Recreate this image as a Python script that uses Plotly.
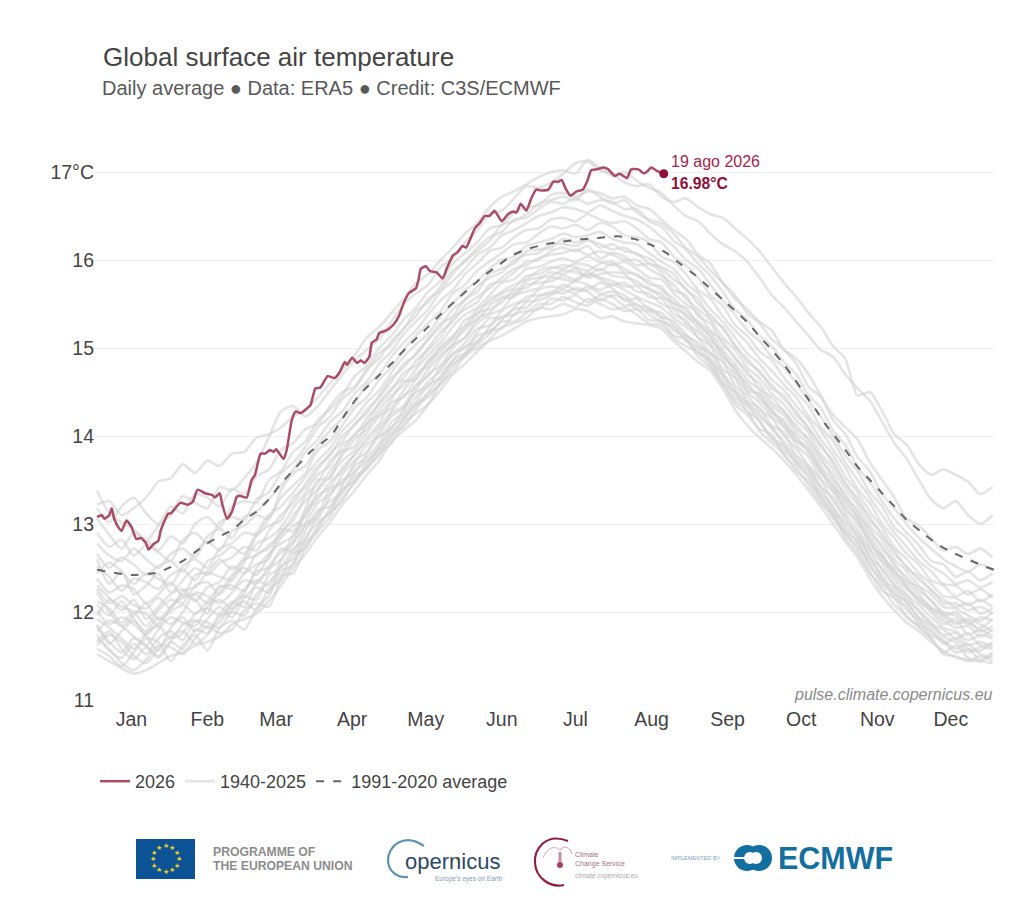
'''
Global surface air temperature, daily average (ERA5 / C3S-ECMWF)
'''

import math
import plotly.graph_objects as go

# Values
month_days = [14, 45, 73, 104, 134, 165, 195, 226, 257, 287, 318, 348]
month_labels = ['Jan', 'Feb', 'Mar', 'Apr', 'May', 'Jun', 'Jul', 'Aug', 'Sep', 'Oct', 'Nov', 'Dec']
temp_ticks = [11, 12, 13, 14, 15, 16, 17]
temp_labels = ['11', '12', '13', '14', '15', '16', '17°C']

days_2026 = [0, 2, 3, 5, 6, 7, 9, 10, 12, 14, 16, 18, 20, 21, 23, 25, 26, 29, 30, 34, 37, 39, 41, 44, 47, 48,
             50, 51, 53, 55, 57, 58.3, 61, 63, 64.4, 66.7, 68.5, 70.5, 72, 73, 76, 77.3, 79.4, 81, 83, 85, 87,
             89, 91, 94, 97, 99, 101, 102, 104, 106, 107.5, 109, 111, 112, 114, 115, 118, 121, 123, 125, 127,
             130, 131, 132, 134, 135.7, 138.4, 140.9, 142.5, 145, 147, 149, 150.4, 152, 154, 156, 158, 160,
             162, 165, 167.5, 169.7, 171, 172.7, 175, 177, 179, 181, 184, 186, 188, 189.4, 191, 193, 195.5,
             198, 200, 201.4, 203.7, 206.4, 208.4, 211, 213, 216, 217.7, 220.7, 222.8, 224, 226, 228, 231]
temp_2026 = [13.08, 13.10, 13.06, 13.10, 13.18, 13.06, 12.95, 12.92, 13.04, 12.97, 12.83, 12.84, 12.78, 12.71,
             12.77, 12.81, 12.93, 13.12, 13.12, 13.24, 13.22, 13.25, 13.39, 13.35, 13.33, 13.30, 13.35, 13.23,
             13.06, 13.14, 13.31, 13.32, 13.30, 13.50, 13.56, 13.80, 13.80, 13.84, 13.82, 13.85, 13.74, 13.84,
             14.18, 14.28, 14.26, 14.30, 14.35, 14.54, 14.55, 14.68, 14.66, 14.73, 14.84, 14.81, 14.89, 14.83,
             14.86, 14.83, 14.90, 15.06, 15.10, 15.17, 15.20, 15.27, 15.36, 15.51, 15.62, 15.68, 15.77, 15.90,
             15.93, 15.875, 15.86, 15.79, 15.90, 16.05, 16.09, 16.16, 16.14, 16.23, 16.36, 16.42, 16.50, 16.50,
             16.56, 16.44, 16.52, 16.55, 16.54, 16.64, 16.56, 16.70, 16.80, 16.79, 16.80, 16.89, 16.89, 16.91,
             16.81, 16.73, 16.78, 16.80, 16.91, 17.02, 17.03, 17.05, 17.03, 16.955, 16.98, 16.93, 17.03, 17.03,
             16.985, 17.00, 17.05, 17.015, 16.98]

days_avg = [0, 14, 25, 30, 35, 40, 45, 50, 55, 60, 65, 70, 75, 80, 87, 95.6, 101, 107, 115, 121, 126, 135, 141,
            146.6, 152.7, 158, 163.6, 169, 176, 183, 190, 197, 204, 212.5, 219, 226, 232, 238, 243.7, 249, 255,
            261, 265.5, 270, 275, 280, 284.5, 288.6, 292.7, 296.7, 301.5, 305.6, 310, 315, 320, 325, 330, 336,
            342, 348, 354, 362, 365.5]
temp_avg = [12.48, 12.42, 12.45, 12.51, 12.58, 12.68, 12.78, 12.86, 12.93, 13.05, 13.14, 13.28, 13.46, 13.61,
            13.82, 14.01, 14.24, 14.47, 14.69, 14.85, 15.0, 15.24, 15.41, 15.55, 15.70, 15.83, 15.94, 16.05,
            16.13, 16.18, 16.21, 16.235, 16.25, 16.27, 16.24, 16.17, 16.08, 15.95, 15.83, 15.70, 15.55, 15.40,
            15.28, 15.13, 14.98, 14.81, 14.64, 14.47, 14.31, 14.14, 13.97, 13.82, 13.65, 13.50, 13.35, 13.20,
            13.045, 12.91, 12.78, 12.685, 12.61, 12.515, 12.48]

# 1940-2025: a selection of the grey lines, read every 5 days
days_gray = [0, 5, 10, 15, 20, 25, 30, 35, 40, 45, 50, 55, 60, 65, 70, 75, 80, 85, 90,
             95, 100, 105, 110, 115, 120, 125, 130, 135, 140, 145, 150, 155, 160, 165, 170, 175, 180, 185,
             190, 195, 200, 205, 210, 215, 220, 225, 230, 235, 240, 245, 250, 255, 260, 265, 270, 275, 280,
             285, 290, 295, 300, 305, 310, 315, 320, 325, 330, 335, 340, 345, 350, 355, 360, 365]
gray_01 = [11.52,11.44,11.36,11.30,11.34,11.42,11.50,11.54,11.62,11.66,11.72,11.86,11.92,11.98,12.12,12.30,12.50,12.66,12.86,
           13.02,13.22,13.38,13.56,13.72,13.94,14.06,14.18,14.36,14.52,14.70,14.82,14.96,15.08,15.14,15.22,15.30,15.34,15.36,
           15.38,15.44,15.42,15.34,15.36,15.30,15.28,15.26,15.22,15.08,14.96,14.84,14.74,14.54,14.30,14.12,13.98,13.86,13.72,
           13.56,13.38,13.20,13.00,12.80,12.62,12.38,12.18,12.02,11.88,11.78,11.66,11.56,11.48,11.46,11.44,11.42]
gray_02 = [11.70,11.58,11.42,11.34,11.46,11.62,11.60,11.52,11.70,11.84,11.76,11.80,12.02,12.10,12.06,12.38,12.66,12.72,12.98,
           13.14,13.26,13.50,13.62,13.80,13.92,14.14,14.26,14.36,14.60,14.72,14.92,15.00,15.10,15.24,15.28,15.34,15.46,15.44,
           15.50,15.46,15.56,15.50,15.44,15.46,15.38,15.28,15.26,15.12,15.02,14.96,14.80,14.58,14.40,14.28,14.06,13.92,13.80,
           13.60,13.48,13.28,13.06,12.90,12.70,12.46,12.24,12.16,11.94,11.84,11.70,11.54,11.62,11.48,11.44,11.52]
gray_03 = [11.62,11.74,11.66,11.50,11.42,11.58,11.72,11.78,11.64,11.74,11.94,12.00,11.96,12.20,12.34,12.46,12.54,12.84,13.02,
           13.12,13.40,13.48,13.70,13.84,13.98,14.20,14.36,14.44,14.62,14.82,14.90,15.08,15.20,15.22,15.38,15.42,15.44,15.56,
           15.54,15.60,15.52,15.60,15.58,15.48,15.50,15.38,15.30,15.24,15.08,15.00,14.84,14.68,14.44,14.34,14.16,13.98,13.88,
           13.68,13.56,13.32,13.14,12.92,12.80,12.52,12.36,12.16,12.06,11.86,11.78,11.68,11.58,11.64,11.52,11.48]
gray_04 = [11.84,11.66,11.54,11.70,11.62,11.48,11.66,11.86,11.90,11.82,11.88,12.10,12.18,12.14,12.42,12.50,12.72,12.82,13.12,
           13.26,13.36,13.60,13.72,13.86,14.10,14.22,14.38,14.58,14.66,14.86,15.02,15.06,15.24,15.36,15.38,15.52,15.54,15.60,
           15.66,15.62,15.70,15.62,15.64,15.60,15.48,15.46,15.36,15.30,15.16,15.02,14.94,14.72,14.54,14.38,14.26,14.08,13.94,
           13.76,13.62,13.42,13.18,13.00,12.84,12.64,12.38,12.26,12.10,11.94,11.84,11.72,11.66,11.54,11.60,11.58]
gray_05 = [11.92,11.82,11.70,11.58,11.76,11.84,11.70,11.76,11.98,12.04,11.96,12.08,12.26,12.36,12.30,12.58,12.78,12.98,13.06,
           13.32,13.50,13.58,13.80,14.00,14.08,14.30,14.50,14.56,14.78,14.92,15.06,15.22,15.26,15.42,15.50,15.54,15.66,15.70,
           15.68,15.76,15.72,15.66,15.72,15.66,15.58,15.52,15.46,15.34,15.24,15.12,14.94,14.84,14.58,14.46,14.30,14.20,14.00,
           13.86,13.66,13.50,13.26,13.08,12.86,12.70,12.48,12.30,12.18,12.00,11.86,11.80,11.70,11.76,11.62,11.64]
gray_06 = [11.78,11.90,11.84,11.72,11.62,11.80,11.94,11.88,11.84,12.06,12.14,12.04,12.22,12.46,12.50,12.60,12.88,13.02,13.24,
           13.34,13.56,13.72,13.82,14.06,14.22,14.32,14.52,14.70,14.80,15.00,15.12,15.28,15.38,15.44,15.60,15.64,15.68,15.80,
           15.78,15.76,15.84,15.78,15.72,15.74,15.64,15.62,15.50,15.44,15.28,15.18,15.04,14.86,14.68,14.50,14.38,14.22,14.10,
           13.90,13.76,13.52,13.36,13.12,12.94,12.72,12.56,12.36,12.20,12.08,11.94,11.82,11.78,11.68,11.74,11.70]
gray_07 = [12.02,11.86,11.94,11.86,11.74,11.88,12.00,12.08,11.98,12.12,12.28,12.30,12.24,12.50,12.66,12.78,12.86,13.12,13.28,
           13.48,13.60,13.80,13.94,14.10,14.28,14.46,14.56,14.76,14.92,15.04,15.24,15.32,15.48,15.58,15.62,15.76,15.80,15.82,
           15.88,15.86,15.82,15.90,15.82,15.80,15.76,15.66,15.62,15.46,15.38,15.22,15.08,14.96,14.72,14.60,14.42,14.30,14.14,
           14.00,13.80,13.60,13.38,13.20,13.00,12.82,12.58,12.44,12.28,12.12,12.02,11.90,11.82,11.84,11.72,11.80]
gray_08 = [12.12,12.04,11.88,12.00,11.98,11.84,12.06,12.16,12.20,12.10,12.22,12.42,12.50,12.42,12.64,12.84,12.98,13.08,13.38,
           13.54,13.72,13.84,14.04,14.22,14.32,14.52,14.70,14.80,15.02,15.14,15.26,15.44,15.52,15.64,15.72,15.78,15.88,15.92,
           15.90,15.96,15.94,15.88,15.96,15.90,15.82,15.76,15.66,15.56,15.42,15.30,15.18,14.98,14.82,14.64,14.52,14.34,14.24,
           14.04,13.90,13.66,13.48,13.24,13.08,12.86,12.66,12.46,12.34,12.20,12.04,11.98,11.88,11.92,11.86,11.78]
gray_09 = [11.96,12.14,12.06,12.00,11.84,12.02,12.14,12.10,12.30,12.34,12.20,12.38,12.60,12.64,12.76,12.88,13.10,13.26,13.40,
           13.60,13.78,13.96,14.08,14.30,14.46,14.58,14.76,14.92,15.06,15.24,15.38,15.46,15.60,15.74,15.78,15.90,15.92,15.98,
           16.02,15.98,16.04,15.98,15.94,15.98,15.90,15.80,15.78,15.62,15.50,15.40,15.20,15.08,14.88,14.74,14.54,14.44,14.28,
           14.12,13.94,13.76,13.52,13.34,13.12,12.94,12.72,12.56,12.36,12.28,12.12,12.00,11.96,11.86,11.94,11.90]
gray_10 = [12.26,12.10,12.18,12.08,12.04,12.16,12.04,12.24,12.28,12.44,12.40,12.36,12.56,12.78,12.84,12.96,13.18,13.36,13.56,
           13.66,13.90,14.00,14.20,14.36,14.52,14.72,14.80,15.00,15.18,15.30,15.48,15.58,15.68,15.80,15.90,15.94,16.02,16.06,
           16.08,16.12,16.06,16.10,16.06,16.00,16.00,15.90,15.82,15.72,15.56,15.44,15.32,15.12,14.98,14.78,14.66,14.48,14.36,
           14.18,14.04,13.80,13.62,13.40,13.22,12.98,12.82,12.60,12.46,12.30,12.20,12.06,12.04,11.96,11.90,12.00]
gray_11 = [12.38,12.22,12.30,12.26,12.10,12.20,12.34,12.18,12.42,12.46,12.60,12.48,12.62,12.86,12.98,13.04,13.30,13.42,13.62,
           13.80,13.94,14.14,14.26,14.46,14.66,14.78,14.94,15.10,15.24,15.44,15.54,15.70,15.80,15.86,16.00,16.06,16.08,16.18,
           16.18,16.16,16.22,16.18,16.12,16.14,16.06,16.02,15.90,15.78,15.68,15.50,15.38,15.22,15.02,14.88,14.72,14.58,14.42,
           14.28,14.08,13.90,13.68,13.48,13.26,13.08,12.86,12.70,12.50,12.40,12.24,12.14,12.06,12.10,11.98,12.04]
gray_12 = [12.52,12.40,12.24,12.38,12.34,12.26,12.42,12.48,12.36,12.58,12.64,12.74,12.66,12.90,13.10,13.20,13.36,13.54,13.72,
           13.86,14.06,14.20,14.38,14.52,14.72,14.90,15.04,15.16,15.36,15.50,15.66,15.76,15.90,16.00,16.04,16.16,16.20,16.24,
           16.30,16.26,16.28,16.32,16.24,16.20,16.18,16.08,15.98,15.90,15.74,15.62,15.44,15.30,15.12,14.94,14.82,14.64,14.52,
           14.34,14.18,13.96,13.78,13.54,13.36,13.14,12.96,12.74,12.60,12.44,12.32,12.18,12.16,12.08,12.14,12.06]
gray_13 = [12.44,12.56,12.46,12.32,12.44,12.38,12.30,12.52,12.60,12.50,12.72,12.78,12.90,12.88,13.06,13.30,13.44,13.58,13.84,
           13.94,14.12,14.32,14.44,14.64,14.78,14.98,15.14,15.28,15.42,15.62,15.72,15.88,15.98,16.08,16.18,16.20,16.30,16.38,
           16.36,16.40,16.34,16.42,16.38,16.28,16.26,16.20,16.04,15.98,15.84,15.66,15.56,15.36,15.20,15.06,14.88,14.74,14.58,
           14.44,14.22,14.06,13.84,13.64,13.40,13.24,13.00,12.84,12.66,12.54,12.36,12.30,12.18,12.24,12.12,12.20]
gray_14 = [12.66,12.50,12.62,12.54,12.42,12.52,12.58,12.46,12.68,12.80,12.70,12.92,12.98,13.10,13.06,13.38,13.58,13.66,13.90,
           14.06,14.20,14.38,14.58,14.70,14.90,15.06,15.20,15.38,15.54,15.66,15.84,15.96,16.10,16.14,16.26,16.34,16.36,16.46,
           16.48,16.44,16.52,16.46,16.42,16.44,16.36,16.24,16.20,16.04,15.94,15.80,15.60,15.48,15.26,15.14,14.96,14.86,14.66,
           14.50,14.34,14.10,13.94,13.70,13.50,13.30,13.10,12.90,12.74,12.58,12.46,12.32,12.30,12.20,12.26,12.16]
gray_15 = [12.78,12.64,12.58,12.72,12.60,12.50,12.66,12.72,12.62,12.86,12.94,12.84,13.08,13.14,13.28,13.44,13.62,13.82,13.96,
           14.16,14.28,14.48,14.62,14.82,14.96,15.16,15.30,15.44,15.64,15.76,15.90,16.06,16.14,16.28,16.34,16.42,16.50,16.54,
           16.60,16.58,16.54,16.62,16.56,16.50,16.46,16.38,16.26,16.16,16.00,15.90,15.72,15.54,15.38,15.20,15.08,14.90,14.78,
           14.60,14.40,14.22,14.00,13.78,13.60,13.36,13.20,12.96,12.84,12.66,12.52,12.44,12.32,12.36,12.28,12.34]
gray_16 = [12.90,12.74,12.82,12.64,12.76,12.68,12.58,12.82,12.90,12.78,13.02,13.08,13.04,13.28,13.36,13.58,13.70,13.88,14.10,
           14.22,14.42,14.54,14.76,14.88,15.08,15.22,15.42,15.52,15.70,15.88,15.98,16.14,16.26,16.32,16.46,16.48,16.58,16.66,
           16.64,16.70,16.64,16.68,16.66,16.58,16.58,16.44,16.38,16.22,16.12,15.96,15.82,15.64,15.44,15.32,15.14,15.02,14.84,
           14.70,14.46,14.32,14.06,13.90,13.64,13.48,13.26,13.06,12.90,12.76,12.58,12.54,12.40,12.46,12.36,12.44]
gray_17 = [13.06,12.88,12.72,12.90,12.82,12.70,12.86,12.78,13.00,13.08,12.96,13.20,13.26,13.24,13.50,13.60,13.82,13.94,14.18,
           14.30,14.46,14.68,14.80,15.00,15.14,15.32,15.46,15.64,15.76,15.96,16.08,16.20,16.36,16.40,16.54,16.60,16.62,16.74,
           16.76,16.72,16.78,16.76,16.70,16.72,16.62,16.58,16.46,16.34,16.24,16.06,15.96,15.74,15.60,15.40,15.28,15.10,14.98,
           14.82,14.56,14.44,14.18,14.02,13.76,13.60,13.34,13.18,13.00,12.84,12.72,12.60,12.52,12.46,12.54,12.48]
gray_18 = [13.38,13.12,13.02,12.94,12.80,12.98,13.10,13.32,13.24,13.18,13.42,13.38,13.52,13.70,13.98,14.28,14.34,14.22,14.34,
           14.52,14.70,14.86,14.98,15.10,15.30,15.50,15.62,15.72,15.92,16.02,16.20,16.34,16.52,16.56,16.70,16.84,16.82,16.88,
           16.98,17.10,17.12,17.02,16.98,16.88,16.84,16.86,16.72,16.66,16.70,16.60,16.52,16.48,16.36,16.24,16.10,15.92,15.74,
           15.58,15.40,15.24,15.02,14.88,14.46,14.50,14.28,14.02,13.90,13.68,13.56,13.62,13.56,13.48,13.34,13.42]
gray_19 = [13.22,13.26,13.10,13.18,13.30,13.48,13.52,13.68,13.58,13.72,13.66,13.80,13.82,13.98,14.02,14.10,14.22,14.30,14.44,
           14.60,14.76,14.92,15.12,15.24,15.40,15.56,15.74,15.84,16.00,16.14,16.30,16.42,16.60,16.72,16.78,16.86,16.94,17.00,
           17.02,16.98,17.14,17.04,16.96,17.00,16.90,16.82,16.76,16.62,16.50,16.44,16.30,16.18,16.10,15.98,15.80,15.60,15.46,
           15.30,15.14,14.98,14.90,14.70,14.54,14.40,14.16,13.92,13.74,13.50,13.28,13.18,13.26,13.10,13.00,13.10]
gray_20 = [13.18,13.02,13.20,13.30,13.12,13.00,13.20,13.12,13.34,13.30,13.20,13.40,13.34,13.54,13.62,13.84,13.92,14.08,14.14,
           14.34,14.50,14.56,14.74,14.94,15.04,15.22,15.36,15.56,15.66,15.84,16.00,16.10,16.22,16.40,16.44,16.52,16.64,16.68,
           16.72,16.68,16.80,16.72,16.64,16.68,16.54,16.46,16.42,16.30,16.14,16.04,15.88,15.74,15.56,15.44,15.30,15.20,14.98,
           14.88,14.70,14.46,14.24,14.10,13.96,13.70,13.50,13.30,13.06,12.98,12.84,12.70,12.74,12.66,12.72,12.62]
gray_21 = [11.66,11.78,11.58,11.46,11.60,11.50,11.66,11.58,11.80,11.76,11.98,12.12,12.06,12.34,12.46,12.72,12.68,13.00,13.10,
           13.40,13.46,13.70,13.90,14.00,14.26,14.34,14.58,14.68,14.88,15.04,15.12,15.34,15.40,15.56,15.58,15.72,15.74,15.76,
           15.82,15.78,15.86,15.80,15.76,15.70,15.70,15.58,15.56,15.38,15.32,15.12,15.02,14.76,14.66,14.40,14.32,14.12,14.04,
           13.78,13.66,13.42,13.30,13.04,12.90,12.62,12.50,12.30,12.14,12.02,11.88,11.74,11.76,11.62,11.66,11.60]
gray_22 = [12.22,12.00,11.84,11.96,12.10,11.92,12.04,12.20,12.14,11.98,12.30,12.26,12.44,12.54,12.60,12.94,12.92,13.18,13.50,
           13.52,13.82,13.88,14.14,14.24,14.42,14.62,14.64,14.86,15.00,15.12,15.32,15.38,15.56,15.62,15.68,15.82,15.84,15.90,
           15.94,15.92,15.88,15.96,15.98,15.86,15.84,15.72,15.70,15.50,15.46,15.26,15.14,14.90,14.78,14.56,14.46,14.26,14.18,
           13.96,13.86,13.58,13.44,13.16,13.04,12.76,12.64,12.40,12.26,12.14,12.00,11.86,11.92,11.74,11.80,11.72]
gray_23 = [11.86,11.64,11.78,11.90,11.72,11.56,11.82,11.94,11.78,11.92,12.06,11.94,12.16,12.28,12.22,12.52,12.60,12.92,13.16,
           13.20,13.44,13.66,13.76,13.92,14.16,14.26,14.44,14.62,14.74,14.94,15.00,15.18,15.34,15.34,15.46,15.58,15.60,15.62,
           15.72,15.66,15.66,15.74,15.68,15.54,15.56,15.44,15.40,15.26,15.14,15.06,14.88,14.70,14.50,14.36,14.22,14.10,13.90,
           13.72,13.60,13.36,13.20,12.96,12.78,12.58,12.42,12.20,12.12,11.92,11.80,11.64,11.70,11.58,11.56,11.66]
gray_24 = [12.30,12.16,12.02,12.14,11.92,12.06,12.20,12.26,12.12,12.28,12.34,12.52,12.44,12.66,12.72,12.90,13.04,13.32,13.46,
           13.72,13.84,14.02,14.14,14.38,14.54,14.66,14.86,14.98,15.12,15.34,15.44,15.52,15.72,15.76,15.86,15.98,16.00,16.10,
           16.14,16.10,16.16,16.02,16.08,16.04,15.94,15.96,15.86,15.66,15.60,15.36,15.28,15.04,14.90,14.70,14.60,14.38,14.28,
           14.08,13.98,13.72,13.56,13.30,13.16,12.90,12.76,12.52,12.40,12.24,12.14,11.96,12.00,11.88,11.82,11.92]
gray_25 = [11.58,11.50,11.38,11.54,11.70,11.66,11.44,11.62,11.74,11.56,11.82,11.90,11.80,12.04,12.18,12.42,12.44,12.74,12.92,
           13.08,13.30,13.46,13.66,13.78,14.02,14.10,14.30,14.48,14.58,14.78,14.94,15.04,15.16,15.30,15.30,15.40,15.50,15.50,
           15.58,15.52,15.48,15.56,15.50,15.42,15.44,15.32,15.30,15.14,15.10,14.90,14.78,14.62,14.36,14.24,14.08,14.02,13.78,
           13.64,13.44,13.24,13.10,12.84,12.66,12.44,12.28,12.08,11.96,11.82,11.70,11.52,11.50,11.44,11.50,11.44]
gray_26 = [12.60,12.32,12.46,12.20,12.30,12.44,12.22,12.36,12.50,12.42,12.56,12.62,12.74,12.70,12.92,13.10,13.24,13.46,13.66,
           13.78,14.00,14.12,14.30,14.44,14.62,14.82,14.92,15.10,15.28,15.36,15.56,15.64,15.84,15.90,15.96,16.10,16.12,16.14,
           16.24,16.20,16.24,16.14,16.18,16.10,16.08,15.96,15.92,15.84,15.66,15.56,15.34,15.24,15.04,14.84,14.74,14.54,14.46,
           14.24,14.10,13.88,13.72,13.44,13.30,13.04,12.90,12.66,12.52,12.36,12.26,12.10,12.10,12.02,12.06,11.98]
gray_27 = [12.08,11.96,12.12,11.92,11.78,11.94,11.86,12.00,12.22,12.18,12.10,12.22,12.36,12.32,12.52,12.68,12.80,13.14,13.32,
           13.42,13.64,13.78,13.98,14.14,14.38,14.44,14.66,14.84,14.96,15.10,15.20,15.40,15.44,15.52,15.66,15.68,15.78,15.86,
           15.84,15.90,15.80,15.84,15.86,15.84,15.72,15.68,15.58,15.52,15.36,15.28,15.12,14.92,14.76,14.52,14.48,14.28,14.12,
           13.94,13.84,13.62,13.42,13.28,13.06,12.80,12.62,12.48,12.30,12.16,12.06,11.94,11.86,11.90,11.78,11.84]
gray_28 = [11.74,11.56,11.48,11.64,11.52,11.70,11.78,11.68,11.90,11.88,11.82,12.02,12.12,12.02,12.26,12.36,12.56,12.78,12.94,
           13.18,13.36,13.54,13.64,13.88,14.04,14.18,14.34,14.50,14.68,14.86,14.94,15.14,15.18,15.32,15.44,15.46,15.58,15.64,
           15.62,15.68,15.64,15.54,15.60,15.56,15.44,15.42,15.34,15.20,15.12,14.94,14.86,14.60,14.50,14.28,14.18,13.96,13.84,
           13.70,13.52,13.30,13.12,12.88,12.74,12.54,12.32,12.22,12.02,11.90,11.74,11.66,11.54,11.58,11.46,11.54]

gray_lines = [gray_01, gray_02, gray_03, gray_04, gray_05, gray_06, gray_07, gray_08, gray_09, gray_10, gray_11,
              gray_12, gray_13, gray_14, gray_15, gray_16, gray_17, gray_18, gray_19, gray_20, gray_21, gray_22,
              gray_23, gray_24, gray_25, gray_26, gray_27, gray_28]

# Plot area in page pixels, the logos below are placed in these
left, right, top, bottom = 92, 995, 150, 700
WIDTH, HEIGHT = 1030, 906


def X(px):
    return (px - left) / (right - left)


def Y(py):
    return (bottom - py) / (bottom - top)


def label(px, py, text, size, color, anchor='left'):
    # annotations sit 2px inside their anchor
    shift = {'left': -2, 'right': 2, 'center': 0}[anchor]
    return dict(x=X(px + shift), y=Y(py), xref='paper', yref='paper', text=text, showarrow=False, xanchor=anchor,
                yanchor='middle', font=dict(size=size, color=color))


fig = go.Figure()

for i, gray in enumerate(gray_lines):
    fig.add_trace(go.Scatter(
        x=days_gray, y=gray, mode='lines', name='1940-2025', legendrank=2, showlegend=i == 0,
        line=dict(color='rgba(210,210,210,0.6)', width=2.6, shape='spline', smoothing=0.7),
        hoverinfo='skip'
    ))
fig.add_trace(go.Scatter(
    x=days_avg, y=temp_avg, mode='lines', name='1991-2020 average', legendrank=3,
    line=dict(color='#666666', width=2, dash='8px,9px', shape='spline', smoothing=0.5)
))
fig.add_trace(go.Scatter(
    x=days_2026, y=temp_2026, mode='lines', name='2026', legendrank=1,
    line=dict(color='#aa4c64', width=2.5, shape='spline', smoothing=0.5)
))
fig.add_trace(go.Scatter(
    x=days_2026[-1:], y=temp_2026[-1:], mode='markers', showlegend=False,
    marker=dict(color='#8f0f37', size=9)
))

annotations = [
    label(103, 57, 'Global surface air temperature', 26, '#444444'),
    label(102, 88, 'Daily average ● Data: ERA5 ● Credit: C3S/ECMWF', 20, '#595959'),
    label(993, 694, '<i>pulse.climate.copernicus.eu</i>', 16, '#8a8a8a', anchor='right'),
    dict(x=days_2026[-1], y=temp_2026[-1], text='19 ago 2026', showarrow=False, xanchor='left', yanchor='middle',
         xshift=5, yshift=12, font=dict(size=16, color='#a3254b')),
    dict(x=days_2026[-1], y=temp_2026[-1], text='<b>16.98°C</b>', showarrow=False, xanchor='left', yanchor='middle',
         xshift=5, yshift=-10, font=dict(size=15.7, color='#8f0f37')),
    # logos
    label(213, 852, '<b>PROGRAMME OF</b>', 12.2, '#8c8c8c'),
    label(213, 866, '<b>THE EUROPEAN UNION</b>', 12.2, '#8c8c8c'),
    label(405, 861, 'opernicus', 22, '#2b4a66'),
    label(435, 879, "Europe's eyes on Earth", 6.5, '#7f9dbb'),
    label(575, 854, 'Climate', 7, '#a8707f'),
    label(575, 864, 'Change Service', 7, '#a8707f'),
    label(575, 876, 'climate.copernicus.eu', 6.5, '#aaaaaa'),
    label(671, 858, 'IMPLEMENTED BY', 5.6, '#86a6c6'),
    label(778, 858, '<b>ECMWF</b>', 30.5, '#136f9f'),
]
for k in range(12):
    ang = math.radians(30 * k)
    annotations.append(label(165.5 + 13 * math.sin(ang), 858.5 - 13 * math.cos(ang), '★', 7, '#f5d020', anchor='center'))


def circle(cx, cy, r, color):
    return dict(type='circle', xref='paper', yref='paper', x0=X(cx - r), x1=X(cx + r), y0=Y(cy + r), y1=Y(cy - r),
                fillcolor=color, line_width=0)


def curve(points, color, width):
    # points in page pixels: a start point, then three points per bezier segment
    parts = ['M%.5f,%.5f' % (X(points[0][0]), Y(points[0][1]))]
    for s in range(1, len(points), 3):
        parts.append('C' + ' '.join('%.5f,%.5f' % (X(p[0]), Y(p[1])) for p in points[s:s + 3]))
    return dict(type='path', xref='paper', yref='paper', path=' '.join(parts), line=dict(color=color, width=width))


shapes = [
    dict(type='rect', xref='paper', yref='paper', x0=X(136), x1=X(195), y0=Y(879), y1=Y(839),
         fillcolor='#0b5394', line_width=0),
    # Copernicus ring
    curve([(424, 846), (404, 832), (388, 846), (388, 860), (388, 872), (398, 878), (408, 877)], '#5f93ad', 2.2),
    circle(458, 859, 2, '#f0c030'),
    # C3S ring, cloud and thermometer
    curve([(568, 841), (545, 832), (534, 850), (535, 863), (536, 878), (550, 888), (564, 885)], '#8f1f40', 2.2),
    curve([(543, 858), (548, 846), (556, 846), (560, 850), (565, 844), (570, 848), (572, 854)], '#cfa8b3', 1),
    dict(type='rect', xref='paper', yref='paper', x0=X(558.5), x1=X(561.5), y0=Y(864), y1=Y(852),
         fillcolor='#c9909f', line_width=0),
    circle(560, 865, 3, '#a8405f'),
    # ECMWF mark
    circle(747, 858, 13, '#136f9f'),
    circle(759, 858, 13, '#136f9f'),
    circle(750, 858, 6, '#ffffff'),
    circle(756, 858, 6, '#ffffff'),
    dict(type='rect', xref='paper', yref='paper', x0=X(733), x1=X(753), y0=Y(859), y1=Y(857),
         fillcolor='#ffffff', line_width=0),
]

fig.update_layout(
    width=WIDTH,
    height=HEIGHT,
    margin=dict(l=left, r=WIDTH - right, t=top, b=HEIGHT - bottom, autoexpand=False),
    paper_bgcolor='white',
    plot_bgcolor='white',
    font=dict(family='Liberation Sans, Arial, sans-serif', color='#444444'),
    hovermode=False,
    legend=dict(orientation='h', x=X(95), y=Y(763), xanchor='left', yanchor='top', font=dict(size=18, color='#444444'),
                itemwidth=30, bgcolor='rgba(0,0,0,0)'),
    annotations=annotations,
    shapes=shapes,
)
fig.update_xaxes(range=[-2.04, 366], tickvals=month_days, ticktext=month_labels, showgrid=False, zeroline=False,
                 ticks='', tickfont=dict(size=19.5, color='#444444'), showline=False, fixedrange=True,
                 ticklabelstandoff=5)
fig.update_yaxes(range=[11, 17.25], tickvals=temp_ticks, ticktext=temp_labels, gridcolor='#f0f0f0', gridwidth=1,
                 zeroline=False, ticks='', tickfont=dict(size=19.5, color='#444444'), fixedrange=True,
                 ticklabelstandoff=-3)

fig.write_html("out.html", config=dict(displayModeBar=False), post_script="document.body.style.margin='0';")
